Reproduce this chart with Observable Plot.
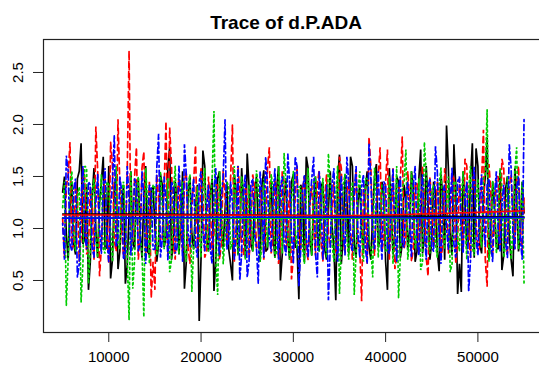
<!DOCTYPE html>
<html><head><meta charset="utf-8">
<script src="https://cdn.jsdelivr.net/npm/d3@7"></script>
<script src="https://cdn.jsdelivr.net/npm/@observablehq/plot@0.6"></script>
<style>body{margin:0;background:#fff;overflow:hidden}</style>
</head><body><div id="chart"></div>
<script>
const title = "Trace of d.P.ADA";
const startIter = 5000, thin = 200;
const xTicks = [10000, 20000, 30000, 40000, 50000];
const yTicks = [0.5, 1.0, 1.5, 2.0, 2.5];

// sampled draws at iterations 5000, 5400, ..., 55000
const chain1 = [
1.35,0.95,1.22,0.85,1.48,1.82,0.90,0.41,1.30,0.98,
1.25,1.69,0.82,0.52,1.40,0.61,1.20,0.47,1.15,0.88,
1.45,0.95,1.30,0.78,1.38,1.02,0.85,1.42,0.92,1.78,
0.88,1.28,1.05,0.42,1.35,0.95,1.20,0.11,1.75,0.90,
1.32,0.40,1.48,0.98,1.18,0.80,0.50,1.36,0.92,1.25,
1.72,0.85,1.30,1.00,1.42,0.78,1.15,0.95,1.38,0.50,
1.28,0.90,1.45,0.82,0.32,1.35,1.69,0.88,1.22,0.95,
1.40,0.80,1.18,1.02,0.31,1.71,0.92,1.30,1.69,0.85,
1.25,0.98,1.38,0.82,1.15,1.62,0.90,1.32,0.41,1.20,
0.95,1.45,0.85,1.28,1.00,1.40,0.78,1.76,0.92,1.22,
0.88,1.35,0.59,1.30,1.99,0.95,1.81,0.37,0.39,1.25,
0.90,1.82,1.77,0.85,1.30,1.87,0.98,1.20,0.80,0.60,
1.38,0.92,0.54,1.28,0.95,1.15];
const chain2 = [
1.10,1.40,1.83,0.85,1.30,0.92,1.48,0.80,1.25,1.98,
0.54,1.35,0.95,1.83,0.88,2.05,1.00,0.82,2.71,0.90,
1.78,0.95,1.74,1.05,0.33,0.41,1.30,0.90,2.03,1.97,
0.85,1.32,0.98,1.45,0.80,1.20,1.80,0.92,1.38,0.78,
1.25,0.95,1.42,0.85,1.30,1.05,2.00,0.88,1.35,0.75,
1.28,0.95,1.40,0.82,1.20,1.00,1.78,0.90,1.32,0.85,
1.45,0.92,0.51,1.30,0.98,1.38,0.80,1.25,1.02,1.42,
0.88,1.30,0.95,1.15,0.78,1.69,0.92,1.35,1.00,1.28,
0.85,0.30,1.40,1.88,0.95,1.22,1.78,0.90,1.76,1.05,
0.61,1.35,1.88,0.92,1.28,0.80,1.45,1.00,1.30,0.54,
1.25,0.95,1.40,0.85,1.32,1.02,1.48,0.88,1.20,1.67,
0.95,1.38,1.10,0.82,1.95,0.44,1.35,1.05,1.50,1.67,
0.92,1.40,1.15,1.45,1.00,1.30];
const chain3 = [
1.20,0.26,1.40,0.95,1.30,0.29,1.60,0.47,1.35,0.90,
1.25,0.80,1.45,0.98,1.15,0.85,1.38,1.02,0.12,0.42,
1.30,0.92,0.15,1.25,1.05,1.40,0.88,1.20,1.00,0.58,
1.35,0.90,1.28,0.82,1.42,0.39,1.15,0.95,1.38,0.85,
1.25,2.13,0.36,1.30,0.92,1.40,0.88,1.22,1.00,1.35,
0.80,1.28,0.95,1.42,0.85,1.20,1.05,1.38,0.78,1.30,
1.72,0.90,1.25,0.98,1.40,0.82,1.32,0.95,1.45,0.88,
1.20,1.00,1.72,0.85,1.30,0.37,1.42,0.92,1.25,0.36,
1.35,0.95,1.48,0.88,0.53,1.30,1.02,1.40,0.80,1.25,
0.95,0.33,1.38,1.76,0.90,1.28,1.00,0.60,1.83,0.92,
1.35,0.85,1.42,0.98,1.20,0.58,1.45,0.90,1.30,1.05,
1.38,0.82,1.25,0.95,1.48,2.14,0.88,1.30,1.00,1.40,
0.85,1.35,0.95,1.78,1.10,0.47];
const chain4 = [
1.05,1.70,0.85,1.38,0.53,1.30,0.95,1.45,0.82,1.25,
1.00,1.40,0.88,1.20,1.90,0.92,1.35,0.78,1.28,1.02,
1.42,0.85,1.30,0.95,1.38,0.80,1.91,0.90,1.25,1.05,
1.40,0.82,1.32,1.81,0.95,1.28,0.85,1.45,0.98,1.20,
0.80,1.38,0.92,1.30,2.05,0.88,1.25,1.00,0.50,1.35,
0.53,1.42,0.95,0.47,1.30,1.69,0.90,1.28,1.02,1.40,
0.85,1.72,0.95,1.69,0.44,1.35,0.92,1.25,1.69,0.53,
1.30,0.98,0.31,1.42,0.88,1.28,1.00,1.69,0.85,1.35,
0.95,1.40,0.82,1.82,0.92,1.30,1.02,1.45,0.80,1.25,
0.98,1.38,0.85,1.30,1.05,1.42,0.90,1.28,0.95,1.40,
0.82,1.79,0.92,1.35,1.00,1.25,0.85,1.45,0.95,1.30,
0.39,1.38,0.90,1.28,1.02,1.42,0.85,1.32,0.98,1.25,
0.88,1.81,0.95,1.40,0.90,2.05];

// draws at the in-between iterations 5200, 5600, ..., 54800
const chain1b = [
1.50,0.70,1.45,0.75,1.55,0.85,1.40,0.68,1.58,0.72,
1.45,0.80,1.60,0.70,1.50,0.78,1.42,0.65,1.55,0.80,
1.48,0.72,1.60,0.75,1.40,0.68,1.52,0.82,1.58,0.70,
1.45,0.75,1.55,0.68,1.50,0.80,1.42,0.72,1.60,0.78,
1.48,0.70,1.55,0.82,1.45,0.66,1.52,0.75,1.58,0.72,
1.40,0.78,1.50,0.68,1.56,0.80,1.45,0.72,1.60,0.75,
1.48,0.70,1.52,0.82,1.42,0.68,1.58,0.74,1.50,0.78,
1.45,0.70,1.55,0.80,1.48,0.66,1.52,0.76,1.60,0.72,
1.42,0.78,1.55,0.70,1.50,0.82,1.45,0.68,1.58,0.75,
1.50,0.72,1.42,0.80,1.55,0.68,1.48,0.76,1.60,0.70,
1.45,0.78,1.52,0.70,1.58,0.74,1.40,0.66,1.55,0.80,
1.48,0.72,1.60,0.76,1.50,0.70,1.45,0.82,1.56,0.74,
1.50,0.70,1.58,0.78,1.45];
const chain2b = [
0.72,1.52,0.80,1.45,0.68,1.58,0.75,1.40,0.70,1.55,
0.82,1.48,0.66,1.60,0.78,1.42,0.72,1.55,0.80,1.50,
0.70,1.58,0.76,1.45,0.68,1.52,0.82,1.40,0.74,1.60,
0.70,1.48,0.78,1.55,0.66,1.45,0.80,1.58,0.72,1.50,
0.76,1.42,0.70,1.56,0.82,1.48,0.68,1.60,0.75,1.45,
0.72,1.52,0.80,1.40,0.70,1.58,0.76,1.48,0.66,1.55,
0.78,1.45,0.72,1.60,0.80,1.50,0.70,1.42,0.74,1.56,
0.68,1.52,0.82,1.45,0.72,1.58,0.76,1.48,0.70,1.55,
0.80,1.42,0.66,1.60,0.74,1.50,0.78,1.45,0.70,1.58,
0.72,1.48,0.80,1.55,0.68,1.42,0.76,1.60,0.72,1.50,
0.82,1.45,0.70,1.58,0.76,1.52,0.66,1.48,0.80,1.60,
0.72,1.55,0.78,1.45,0.70,1.62,0.76,1.50,0.82,1.58,
0.74,1.52,0.80,1.60,0.78];
const chain3b = [
1.45,0.70,1.55,0.78,1.40,0.66,1.58,0.80,1.48,0.72,
1.52,0.76,1.42,0.68,1.60,0.80,1.45,0.72,1.55,0.70,
1.50,0.78,1.58,0.66,1.42,0.74,1.55,0.80,1.48,0.70,
1.60,0.76,1.45,0.68,1.52,0.82,1.40,0.72,1.58,0.78,
1.48,0.70,1.55,0.66,1.45,0.80,1.60,0.74,1.50,0.70,
1.42,0.78,1.56,0.68,1.48,0.82,1.52,0.72,1.60,0.76,
1.45,0.70,1.55,0.80,1.40,0.66,1.58,0.74,1.50,0.78,
1.48,0.72,1.42,0.68,1.60,0.80,1.52,0.70,1.45,0.76,
1.55,0.68,1.48,0.82,1.58,0.72,1.42,0.78,1.50,0.66,
1.60,0.74,1.45,0.70,1.55,0.80,1.48,0.68,1.52,0.76,
1.42,0.72,1.58,0.80,1.50,0.66,1.45,0.78,1.55,0.70,
1.60,0.74,1.48,0.82,1.52,0.68,1.45,0.76,1.58,0.72,
1.50,0.70,1.55,0.80,1.45];
const chain4b = [
0.70,1.55,0.78,1.48,0.66,1.60,0.80,1.42,0.72,1.52,
0.76,1.58,0.68,1.45,0.82,1.50,0.70,1.60,0.74,1.48,
0.78,1.55,0.66,1.42,0.80,1.58,0.72,1.50,0.70,1.45,
0.76,1.60,0.68,1.52,0.82,1.48,0.72,1.55,0.78,1.42,
0.66,1.58,0.74,1.50,0.80,1.45,0.70,1.60,0.76,1.52,
0.68,1.48,0.82,1.55,0.72,1.42,0.78,1.58,0.70,1.50,
0.74,1.45,0.66,1.60,0.80,1.52,0.72,1.48,0.76,1.55,
0.70,1.42,0.82,1.58,0.68,1.50,0.74,1.45,0.78,1.60,
0.72,1.52,0.66,1.48,0.80,1.55,0.70,1.42,0.76,1.58,
0.68,1.50,0.82,1.45,0.72,1.60,0.74,1.52,0.70,1.48,
0.78,1.55,0.66,1.42,0.80,1.58,0.72,1.50,0.76,1.45,
0.70,1.60,0.74,1.52,0.82,1.48,0.68,1.55,0.78,1.42,
0.72,1.58,0.80,1.50,0.70];

const smoothIter = [5000, 15000, 25000, 35000, 45000, 55000];
const smooth1 = [1.14, 1.14, 1.13, 1.12, 1.12, 1.11];
const smooth2 = [1.13, 1.13, 1.13, 1.12, 1.14, 1.17];
const smooth3 = [1.10, 1.10, 1.10, 1.10, 1.10, 1.10];
const smooth4 = [1.10, 1.10, 1.11, 1.11, 1.10, 1.105];

const colors = ["#000000", "#FF0000", "#00CD00", "#0000FF"];
const dashes = [null, "6,4", "2,3", "2,3,6,3"];
const chainsA = [chain1, chain2, chain3, chain4];
const chainsB = [chain1b, chain2b, chain3b, chain4b];
const smooths = [smooth1, smooth2, smooth3, smooth4];

const font = "'Liberation Sans', Arial, Helvetica, sans-serif";

function series(a, b) {
  const out = [];
  a.forEach((v, i) => {
    out.push(v);
    if (i < b.length) out.push(b[i]);
  });
  return out.map((v, k) => ({iter: startIter + k * thin, value: v}));
}

const traceMarks = chainsA.map((a, c) =>
  Plot.line(series(a, chainsB[c]), {
    x: "iter", y: "value", stroke: colors[c], strokeWidth: 1.7,
    strokeDasharray: dashes[c], strokeLinejoin: "miter"
  }));
const smoothMarks = smooths.map((vals, c) =>
  Plot.line(vals.map((v, i) => ({iter: smoothIter[i], value: v})), {
    x: "iter", y: "value", stroke: colors[c], strokeWidth: 1.6, curve: "basis"
  }));

const chart = Plot.plot({
  width: 539, height: 372,
  marginLeft: 43, marginRight: -3, marginTop: 39, marginBottom: 40,
  style: {fontFamily: font, background: "#fff", color: "#000", overflow: "hidden"},
  x: {domain: [2927, 57000], axis: null},
  y: {domain: [0, 2.817], axis: null},
  marks: [
    ...traceMarks,
    ...smoothMarks,
    Plot.frame({stroke: "#222", strokeWidth: 1.2}),
    Plot.axisX({ticks: xTicks, tickSize: 10, tickFormat: () => "", label: null, stroke: "#222"}),
    Plot.axisY({ticks: yTicks, tickSize: 10, tickFormat: () => "", label: null, stroke: "#222"}),
    Plot.text(xTicks, {x: d => d, frameAnchor: "bottom", dy: 25, lineAnchor: "middle",
      text: d => String(d), fontSize: 15, fill: "#000"}),
    Plot.text(yTicks, {y: d => d, frameAnchor: "left", dx: -25, rotate: -90,
      textAnchor: "middle", lineAnchor: "middle", text: d => d3.format(".1f")(d), fontSize: 15, fill: "#000"}),
    Plot.text([title], {frameAnchor: "top", dx: -7, dy: -11, lineAnchor: "bottom",
      text: d => d, fontSize: 19, fontWeight: "bold", fill: "#000"})
  ]
});
document.getElementById("chart").append(chart);
</script>
</body></html>
